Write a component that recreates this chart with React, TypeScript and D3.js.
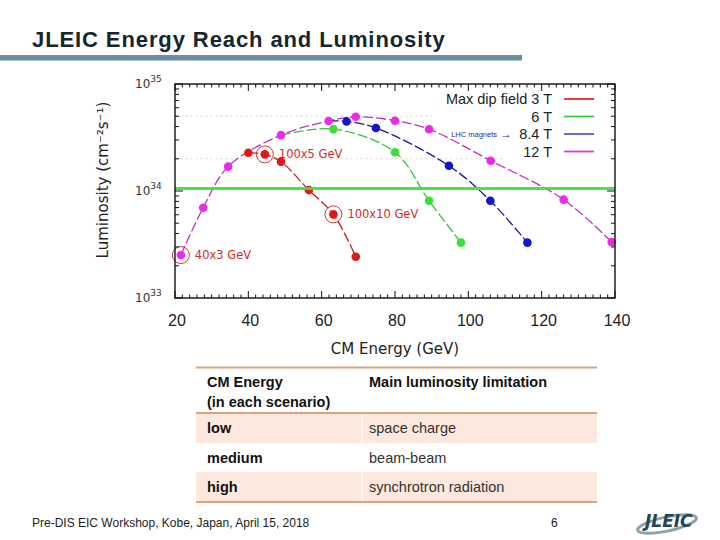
import React from "react";
import * as d3 from "d3";

// ---------- data ----------
const magentaE = [21.6, 27.7, 34.5, 48.9, 61.9, 69.3, 80.0, 89.3, 106.1, 126.0, 139.1];
const magentaL = [2.52e33, 6.98e33, 1.69e34, 3.33e34, 4.51e34, 4.94e34, 4.54e34, 3.78e34, 1.92e34, 8.3e33, 3.33e33];
const redE = [40.0, 44.5, 48.9, 56.5, 63.2, 69.3];
const redL = [2.28e34, 2.2e34, 1.88e34, 1.02e34, 6.05e33, 2.43e33];
const greenE = [63.2, 80.0, 89.3, 98.0];
const greenL = [3.79e34, 2.3e34, 8.1e33, 3.29e33];
const blueE = [66.8, 74.8, 94.7, 106.0, 116.1];
const blueL = [4.47e34, 3.88e34, 1.72e34, 8.1e33, 3.29e33];
const thresholdL = 1.055e34;
const gridL = [2e34, 5e34];

const circled = [
  { e: 21.6, l: 2.52e33, label: "40x3 GeV" },
  { e: 44.5, l: 2.2e34, label: "100x5 GeV" },
  { e: 63.2, l: 6.05e33, label: "100x10 GeV" },
];

const legendLabels = ["Max dip field 3 T", "6 T", "8.4 T", "12 T"];
const xTicks = [20, 40, 60, 80, 100, 120, 140];
const yTickExp = [33, 34, 35];

const tableHeader = ["CM Energy", "(in each scenario)", "Main luminosity limitation"];
const tableRows = [
  ["low", "space charge"],
  ["medium", "beam-beam"],
  ["high", "synchrotron radiation"],
];

const title = "JLEIC Energy Reach and Luminosity";
const footer = "Pre-DIS EIC Workshop, Kobe, Japan, April 15, 2018";
const pageNo = "6";

// ---------- colours ----------
const C = {
  red: "#e01818",
  redLine: "#c42020",
  green: "#38e038",
  greenLine: "#33c233",
  blue: "#1414d0",
  blueLine: "#1a1a90",
  magenta: "#ee28ee",
  magentaLine: "#c030c8",
};

const zip = (es: number[], ls: number[]) => es.map((e, i) => ({ e, l: ls[i] }));

export default function App() {
  const x = d3.scaleLinear().domain([20, 140]).range([175, 615]);
  const y = d3.scaleLog().domain([1e33, 1e35]).range([298, 84]);

  const line = d3
    .line<{ e: number; l: number }>()
    .x((d) => x(d.e))
    .y((d) => y(d.l))
    .curve(d3.curveCatmullRom.alpha(0.5));

  const magenta = zip(magentaE, magentaL);
  const red = zip(redE, redL);
  const green = zip(greenE, greenL);
  const blue = zip(blueE, blueL);

  const series = [
    { pts: magenta, linePts: magenta, col: C.magenta, lc: C.magentaLine },
    { pts: red, linePts: red, col: C.red, lc: C.redLine },
    { pts: green, linePts: [magenta[3], ...green], col: C.green, lc: C.greenLine },
    { pts: blue, linePts: [magenta[4], ...blue], col: C.blue, lc: C.blueLine },
  ];

  const [x0, x1] = x.range();
  const [yb, yt] = y.range();

  const minorX = d3.range(20, 141, 2).filter((v) => v % 20 !== 0);
  const minorY: number[] = [];
  for (const p of [33, 34]) for (let m = 2; m <= 9; m++) minorY.push(m * Math.pow(10, p));

  const legendCols = ["#e8262a", "#3ccc3c", "#5a5ad0", "#d63cd6"];

  const tX0 = 196;
  const tX1 = 597;
  const tCol = 362;
  const rowTops = [413, 443, 472, 501];

  return (
    <div style={{ position: "fixed", left: 0, top: 0 }}>
      <svg width={720} height={540} style={{ display: "block", background: "#fff" }}>
        {/* title */}
        <text
          x={32}
          y={47}
          fontFamily="Liberation Sans, Arial"
          fontWeight="bold"
          fontSize={22}
          letterSpacing={0.9}
          fill="#15262e"
        >
          {title}
        </text>
        <rect x={0} y={55} width={522} height={5.5} fill="#6a8fa2" />

        {/* plot frame background */}
        <rect x={x0} y={yt} width={x1 - x0} height={yb - yt} fill="#fff" />

        {/* faint gridlines */}
        <line x1={x0} x2={x(110)} y1={y(gridL[0])} y2={y(gridL[0])} stroke="#e2e2e2" strokeDasharray="3,2" />
        <line x1={x0} x2={x(90)} y1={y(gridL[1])} y2={y(gridL[1])} stroke="#e2e2e2" strokeDasharray="3,2" />

        {/* lines */}
        {series.map((s, i) => (
          <path key={"l" + i} d={line(s.linePts) || ""} fill="none" stroke={s.lc} strokeWidth={1.3} strokeDasharray="10,3" />
        ))}

        {/* points */}
        {series.map((s, i) =>
          s.pts.map((p, j) => <circle key={"p" + i + "-" + j} cx={x(p.e)} cy={y(p.l)} r={4.3} fill={s.col} />)
        )}

        {/* threshold line */}
        <line x1={x0} x2={x1} y1={y(thresholdL)} y2={y(thresholdL)} stroke="#3de03d" strokeWidth={3.2} opacity={0.92} />

        {/* circled scenarios */}
        {circled.map((c, i) => (
          <g key={"c" + i}>
            <circle cx={x(c.e)} cy={y(c.l)} r={8.5} fill="none" stroke="#d02020" strokeWidth={0.9} />
            <text
              x={x(c.e) + 14}
              y={y(c.l) + 4}
              fontFamily="DejaVu Sans, Verdana"
              fontSize={11.5}
              fill="#d42a2a"
            >
              {c.label}
            </text>
          </g>
        ))}

        {/* frame and ticks */}
        <rect x={x0} y={yt} width={x1 - x0} height={yb - yt} fill="none" stroke="#111" strokeWidth={1.4} />
        {xTicks.map((t) => (
          <g key={"xt" + t}>
            <line x1={x(t)} x2={x(t)} y1={yb} y2={yb - 7} stroke="#111" />
            <line x1={x(t)} x2={x(t)} y1={yt} y2={yt + 7} stroke="#111" />
            <text x={x(t) + 2} y={326} textAnchor="middle" fontFamily="Liberation Sans, Arial" fontSize={16} fill="#222">
              {t}
            </text>
          </g>
        ))}
        {minorX.map((t) => (
          <g key={"xm" + t}>
            <line x1={x(t)} x2={x(t)} y1={yb} y2={yb - 3.5} stroke="#111" />
            <line x1={x(t)} x2={x(t)} y1={yt} y2={yt + 3.5} stroke="#111" />
          </g>
        ))}
        {minorY.map((v, i) => (
          <g key={"ym" + i}>
            <line x1={x0} x2={x0 + 4} y1={y(v)} y2={y(v)} stroke="#111" />
            <line x1={x1} x2={x1 - 4} y1={y(v)} y2={y(v)} stroke="#111" />
          </g>
        ))}
        {yTickExp.map((p) => (
          <g key={"yt" + p}>
            <line x1={x0} x2={x0 + 8} y1={y(Math.pow(10, p))} y2={y(Math.pow(10, p))} stroke="#111" />
            <line x1={x1} x2={x1 - 8} y1={y(Math.pow(10, p))} y2={y(Math.pow(10, p))} stroke="#111" />
            <text x={135} y={y(Math.pow(10, p)) + 4} fontFamily="DejaVu Sans, Verdana" fontSize={12} fill="#333">
              10
              <tspan dy={-6} fontSize={9}>
                {p}
              </tspan>
            </text>
          </g>
        ))}

        {/* axis titles */}
        <text x={395} y={354} textAnchor="middle" fontFamily="DejaVu Sans, Verdana" fontSize={15} fill="#222">
          CM Energy (GeV)
        </text>
        <text
          transform="translate(108,180) rotate(-90)"
          textAnchor="middle"
          fontFamily="DejaVu Sans, Verdana"
          fontSize={15}
          fill="#222"
        >
          Luminosity (cm⁻²s⁻¹)
        </text>

        {/* legend */}
        {legendLabels.map((lab, i) => {
          const ly = 99 + i * 17.5;
          return (
            <g key={"lg" + i}>
              <text x={552} y={ly + 5} textAnchor="end" fontFamily="Liberation Sans, Arial" fontSize={14.5} fill="#222">
                {lab}
              </text>
              <line x1={564} x2={594} y1={ly} y2={ly} stroke={legendCols[i]} strokeWidth={1.8} />
            </g>
          );
        })}
        <text x={512} y={137} textAnchor="end" fontFamily="Liberation Sans, Arial" fontSize={7.5} fill="#2a2a9a">
          LHC magnets
          <tspan fontSize={12} dx={3} dy={1}>
            →
          </tspan>
        </text>

        {/* table */}
        <rect x={tX0} y={rowTops[0]} width={tX1 - tX0} height={rowTops[1] - rowTops[0]} fill="#fce8dc" />
        <rect x={tX0} y={rowTops[2]} width={tX1 - tX0} height={rowTops[3] - rowTops[2]} fill="#fce8dc" />
        <line x1={tCol} x2={tCol} y1={rowTops[0]} y2={rowTops[1]} stroke="#fff" strokeWidth={1} />
        <line x1={tCol} x2={tCol} y1={rowTops[2]} y2={rowTops[3]} stroke="#fff" strokeWidth={1} />
        <line x1={tX0} x2={tX1} y1={367.5} y2={367.5} stroke="#dca47a" strokeWidth={2} />
        <line x1={tX0} x2={tX1} y1={rowTops[0]} y2={rowTops[0]} stroke="#dca47a" strokeWidth={2} />
        <line x1={tX0} x2={tX1} y1={rowTops[3] + 1} y2={rowTops[3] + 1} stroke="#dca47a" strokeWidth={2} />
        <g fontFamily="Liberation Sans, Arial" fontSize={14.5}>
          <text x={207} y={386.5} fontWeight="bold" fill="#111">
            {tableHeader[0]}
          </text>
          <text x={207} y={406.5} fontWeight="bold" fill="#111">
            {tableHeader[1]}
          </text>
          <text x={369} y={386.5} fontWeight="bold" fill="#111">
            {tableHeader[2]}
          </text>
          {tableRows.map((r, i) => (
            <g key={"tr" + i}>
              <text x={207} y={rowTops[i] + 20} fontWeight="bold" fill="#111">
                {r[0]}
              </text>
              <text x={369} y={rowTops[i] + 20} fill="#333">
                {r[1]}
              </text>
            </g>
          ))}
        </g>

        {/* footer */}
        <text x={32} y={527} fontFamily="Liberation Sans Narrow, Liberation Sans, Arial" fontSize={12} fill="#222">
          {footer}
        </text>
        <text x={551} y={527} fontFamily="Liberation Sans Narrow, Liberation Sans, Arial" fontSize={12} fill="#222">
          {pageNo}
        </text>

        {/* logo */}
        <g>
          <ellipse cx={667} cy={524} rx={30} ry={7} fill="none" stroke="#8aa2b0" strokeWidth={3} transform="rotate(-12 667 524)" />
          <text
            x={645}
            y={527}
            fontFamily="DejaVu Sans, Verdana"
            fontWeight="bold"
            fontStyle="italic"
            fontSize={17}
            fill="#264654"
          >
            JLEIC
          </text>
        </g>
      </svg>
    </div>
  );
}
